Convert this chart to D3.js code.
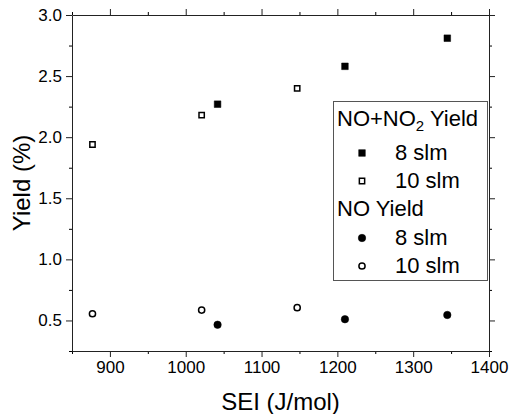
<!DOCTYPE html>
<html>
  <head>
    <meta charset="utf-8">
    <title>Yield vs SEI</title>
    <style>
      body { margin: 0; background: #fff; }
      svg text { font-family: Arial, "Liberation Sans", sans-serif; fill: #000; }
    </style>
  </head>
  <body>
    <svg id="chart" width="509" height="414"></svg>
    <script src="https://d3js.org/d3.v7.min.js"></script>
    <script>
      // data
      const sei8 = [1042, 1210, 1345];
      const sei10 = [877, 1021, 1147];
      const noxYield8 = [2.27, 2.58, 2.81];
      const noxYield10 = [1.94, 2.18, 2.40];
      const noYield8 = [0.465, 0.51, 0.545];
      const noYield10 = [0.555, 0.585, 0.605];
      const xTicks = [900, 1000, 1100, 1200, 1300, 1400];
      const yTicks = [0.5, 1.0, 1.5, 2.0, 2.5, 3.0];

      const width = 509, height = 414;
      const margin = { top: 15, right: 20, bottom: 63, left: 72 };

      const svg = d3.select('#chart');

      const x = d3.scaleLinear().domain([850, 1400]).range([margin.left, width - margin.right]);
      const y = d3.scaleLinear().domain([0.25, 3.0]).range([height - margin.bottom, margin.top]);

      const xMinor = d3.range(850, 1401, 50).filter(v => !xTicks.includes(v));
      const yMinor = d3.range(0.25, 3.01, 0.25).filter(v => !yTicks.some(t => Math.abs(t - v) < 1e-6));

      const frame = [
        { make: d3.axisBottom, s: x, t: `translate(0,${y.range()[0]})`, minor: xMinor, major: xTicks, fmt: d3.format('d') },
        { make: d3.axisTop, s: x, t: `translate(0,${y.range()[1]})`, minor: xMinor, major: xTicks, fmt: null },
        { make: d3.axisLeft, s: y, t: `translate(${x.range()[0]},0)`, minor: yMinor, major: yTicks, fmt: d3.format('.1f') },
        { make: d3.axisRight, s: y, t: `translate(${x.range()[1]},0)`, minor: yMinor, major: yTicks, fmt: null }
      ];

      frame.forEach(a => {
        svg.append('g').attr('transform', a.t)
          .call(a.make(a.s).tickValues(a.minor).tickSize(3).tickFormat(''))
          .call(g => g.select('.domain').remove());
        const g = svg.append('g').attr('transform', a.t)
          .call(a.make(a.s).tickValues(a.major).tickSize(6).tickSizeOuter(0).tickPadding(4)
            .tickFormat(a.fmt ? a.fmt : ''));
        g.selectAll('text').style('font-size', '17px').style('font-family', null);
        g.selectAll('line, path').attr('stroke', '#222');
      });

      // axis titles
      svg.append('text')
        .attr('x', (x.range()[0] + x.range()[1]) / 2)
        .attr('y', 410)
        .attr('text-anchor', 'middle')
        .style('font-size', '24px')
        .text('SEI (J/mol)');

      svg.append('text')
        .attr('transform', `translate(30,${(y.range()[0] + y.range()[1]) / 2}) rotate(-90)`)
        .attr('text-anchor', 'middle')
        .style('font-size', '24px')
        .text('Yield (%)');

      // markers
      const sq = d3.symbol().type(d3.symbolSquare);
      const ci = d3.symbol().type(d3.symbolCircle);

      function plot(xs, ys, sym, size, filled) {
        svg.append('g').selectAll('path')
          .data(xs.map((v, i) => [v, ys[i]]))
          .join('path')
          .attr('transform', d => `translate(${x(d[0])},${y(d[1])})`)
          .attr('d', sym.size(size)())
          .attr('fill', filled ? '#000' : '#fff')
          .attr('stroke', '#000')
          .attr('stroke-width', filled ? 0.5 : 1.5);
      }

      plot(sei8, noxYield8, sq, 44, true);
      plot(sei10, noxYield10, sq, 28, false);
      plot(sei8, noYield8, ci, 44, true);
      plot(sei10, noYield10, ci, 30, false);

      // legend
      const legend = svg.append('g');
      legend.append('rect')
        .attr('x', 333.5).attr('y', 101.5)
        .attr('width', 154).attr('height', 179)
        .attr('fill', '#fff')
        .attr('stroke', '#555')
        .attr('stroke-width', 1);

      const rows = [
        { head: true, y: 126, html: 'nox' },
        { y: 160, sym: sq, size: 44, filled: true, label: '8 slm' },
        { y: 188, sym: sq, size: 28, filled: false, label: '10 slm' },
        { head: true, y: 216, label: 'NO Yield' },
        { y: 245, sym: ci, size: 44, filled: true, label: '8 slm' },
        { y: 273, sym: ci, size: 30, filled: false, label: '10 slm' }
      ];

      rows.forEach(r => {
        if (r.head) {
          const t = legend.append('text').attr('x', 337).attr('y', r.y).style('font-size', '22px');
          if (r.html === 'nox') {
            t.append('tspan').text('NO+NO');
            t.append('tspan').attr('dy', 5).style('font-size', '15px').text('2');
            t.append('tspan').attr('dy', -5).text(' Yield');
          } else {
            t.text(r.label);
          }
        } else {
          legend.append('path')
            .attr('transform', `translate(362,${r.y - 7})`)
            .attr('d', r.sym.size(r.size)())
            .attr('fill', r.filled ? '#000' : '#fff')
            .attr('stroke', '#000')
            .attr('stroke-width', r.filled ? 0.5 : 1.5);
          legend.append('text')
            .attr('x', 395).attr('y', r.y)
            .style('font-size', '22px')
            .text(r.label);
        }
      });
    </script>
  </body>
</html>
